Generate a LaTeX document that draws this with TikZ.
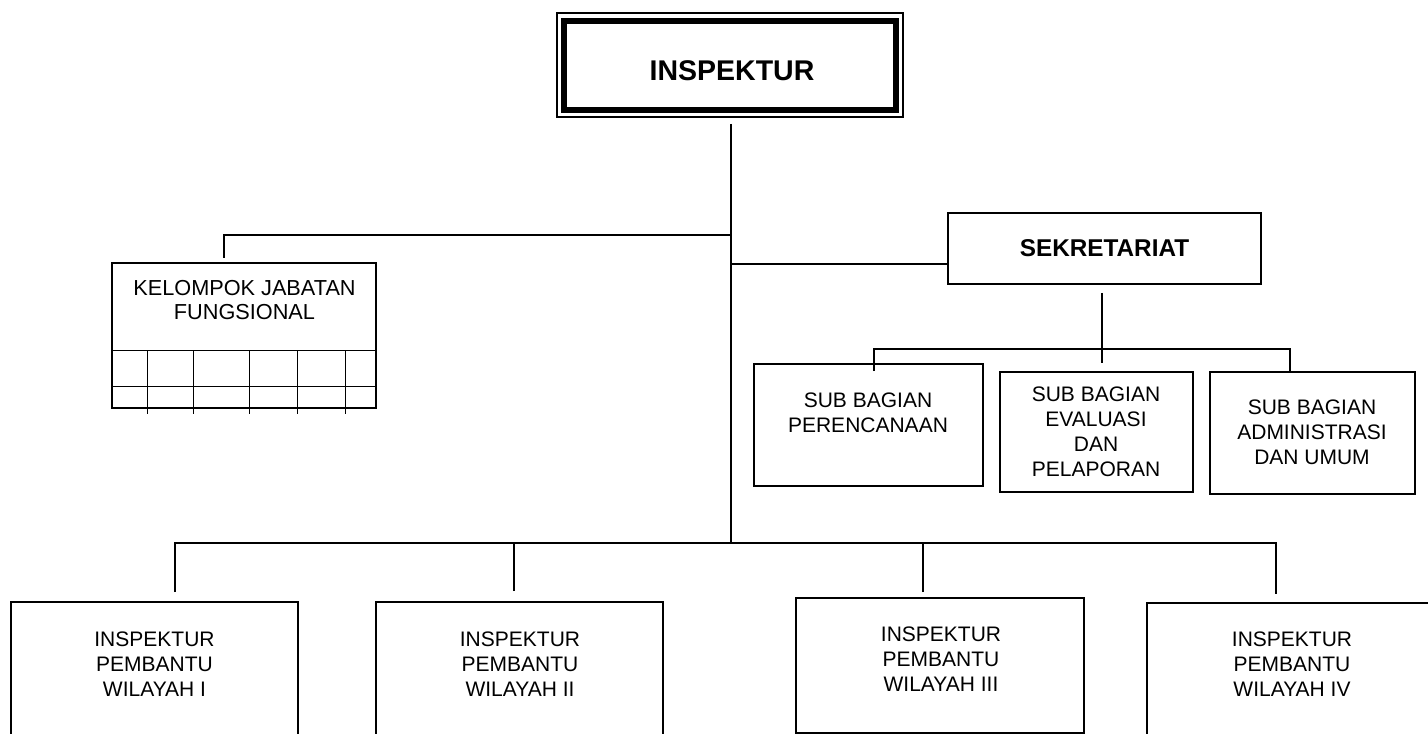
\documentclass[tikz,border=0pt]{standalone}
\usepackage{fontspec}
\setmainfont{Liberation Sans}
\usetikzlibrary{calc}
\begin{document}
\begin{tikzpicture}[x=1pt,y=-1pt,
  box/.style={draw, line width=1.7pt, rectangle, inner sep=0pt},
  lbl/.style={inner sep=0pt, align=center, font=\fontsize{21}{25}\selectfont},
  conn/.style={line width=1.7pt},
  grid/.style={line width=1.3pt}]
\useasboundingbox (0,0) rectangle (1428,734);
\clip (0,0) rectangle (1428,734);
% boxes
\node[box, line width=1.5pt, minimum width=346pt, minimum height=104pt] (insp) at (730,65) {};
\draw[line width=6pt] ($(insp.north west)+(8,9)$) rectangle ($(insp.south east)+(-7.5,-8)$);
\node[box, minimum width=264pt, minimum height=145pt] (kel) at (244,335.5) {};
\node[box, minimum width=313pt, minimum height=71pt] (sek) at (1104.5,248.5) {};
\node[box, minimum width=229pt, minimum height=122pt] (sub1) at (868.5,425) {};
\node[box, minimum width=193pt, minimum height=120pt] (sub2) at (1096.5,432) {};
\node[box, minimum width=205pt, minimum height=122pt] (sub3) at (1312.5,433) {};
\node[box, minimum width=287pt, minimum height=148pt] (bot1) at (154.5,676) {};
\node[box, minimum width=287pt, minimum height=148pt] (bot2) at (519.5,676) {};
\node[box, minimum width=288pt, minimum height=135pt] (bot3) at (940,665.5) {};
\node[box, minimum width=293pt, minimum height=147pt] (bot4) at (1293.5,676.5) {};
% kelompok grid
\draw[grid] ($(kel.north west)+(0,88)$) -- ++(266,0);
\draw[grid] ($(kel.north west)+(0,124)$) -- ++(264,0);
\foreach \gx in {36,82,138,186,234}
  \draw[grid] ($(kel.north west)+(\gx,88)$) -- ++(0,64);
% texts
\node[inner sep=0pt, font=\bfseries\fontsize{28.5}{33}\selectfont] (tinsp) at (732,70.8) {INSPEKTUR};
\node[inner sep=0pt, font=\bfseries\fontsize{24.3}{28}\selectfont] (tsek) at (1104.5,247.7) {SEKRETARIAT};
\node[lbl, font=\fontsize{21.7}{23.3}\selectfont] (tkel) at (244.5,300) {KELOMPOK JABATAN\\FUNGSIONAL};
\node[lbl] (tsub1) at (868,412.5) {SUB BAGIAN\\PERENCANAAN};
\node[lbl] (tsub2) at (1096,431.7) {SUB BAGIAN\\EVALUASI\\DAN\\PELAPORAN};
\node[lbl] (tsub3) at (1312,432) {SUB BAGIAN\\ADMINISTRASI\\DAN UMUM};
\node[lbl] (tbot1) at (154.5,664.5) {INSPEKTUR\\PEMBANTU\\WILAYAH I};
\node[lbl] (tbot2) at (520,664.5) {INSPEKTUR\\PEMBANTU\\WILAYAH II};
\node[lbl] (tbot3) at (941,659) {INSPEKTUR\\PEMBANTU\\WILAYAH III};
\node[lbl] (tbot4) at (1292,664) {INSPEKTUR\\PEMBANTU\\WILAYAH IV};
% junctions
\coordinate (mtop) at ($(insp.south)+(1,6)$);
\coordinate (jk) at (731,235);
\coordinate (js) at (731,264);
\coordinate (jb) at (731,543);
\coordinate (sj) at (1102,349);
% connectors
\draw[conn] (mtop) -- (jb);
\draw[conn] (jk) -| ($(kel.north)+(-20,-4)$);
\draw[conn] (js) -- (js -| sek.west);
\draw[conn] ($(sek.south)+(-2.5,8)$) -- ($(sub2.north)+(5.5,-8)$);
\draw[conn] ($(sub1.north)+(5.5,8)$) |- (sj) -| ($(sub3.north)+(-22.5,0)$);
\draw[conn] ($(bot1.north)+(20.5,-9)$) |- (jb) -| ($(bot4.north)+(-17.5,-8)$);
\draw[conn] ($(bot2.north)+(-5.5,-10)$) -- ++(0,-49);
\draw[conn] ($(bot3.north)+(-17,-5)$) -- ++(0,-50);
\end{tikzpicture}
\end{document}
